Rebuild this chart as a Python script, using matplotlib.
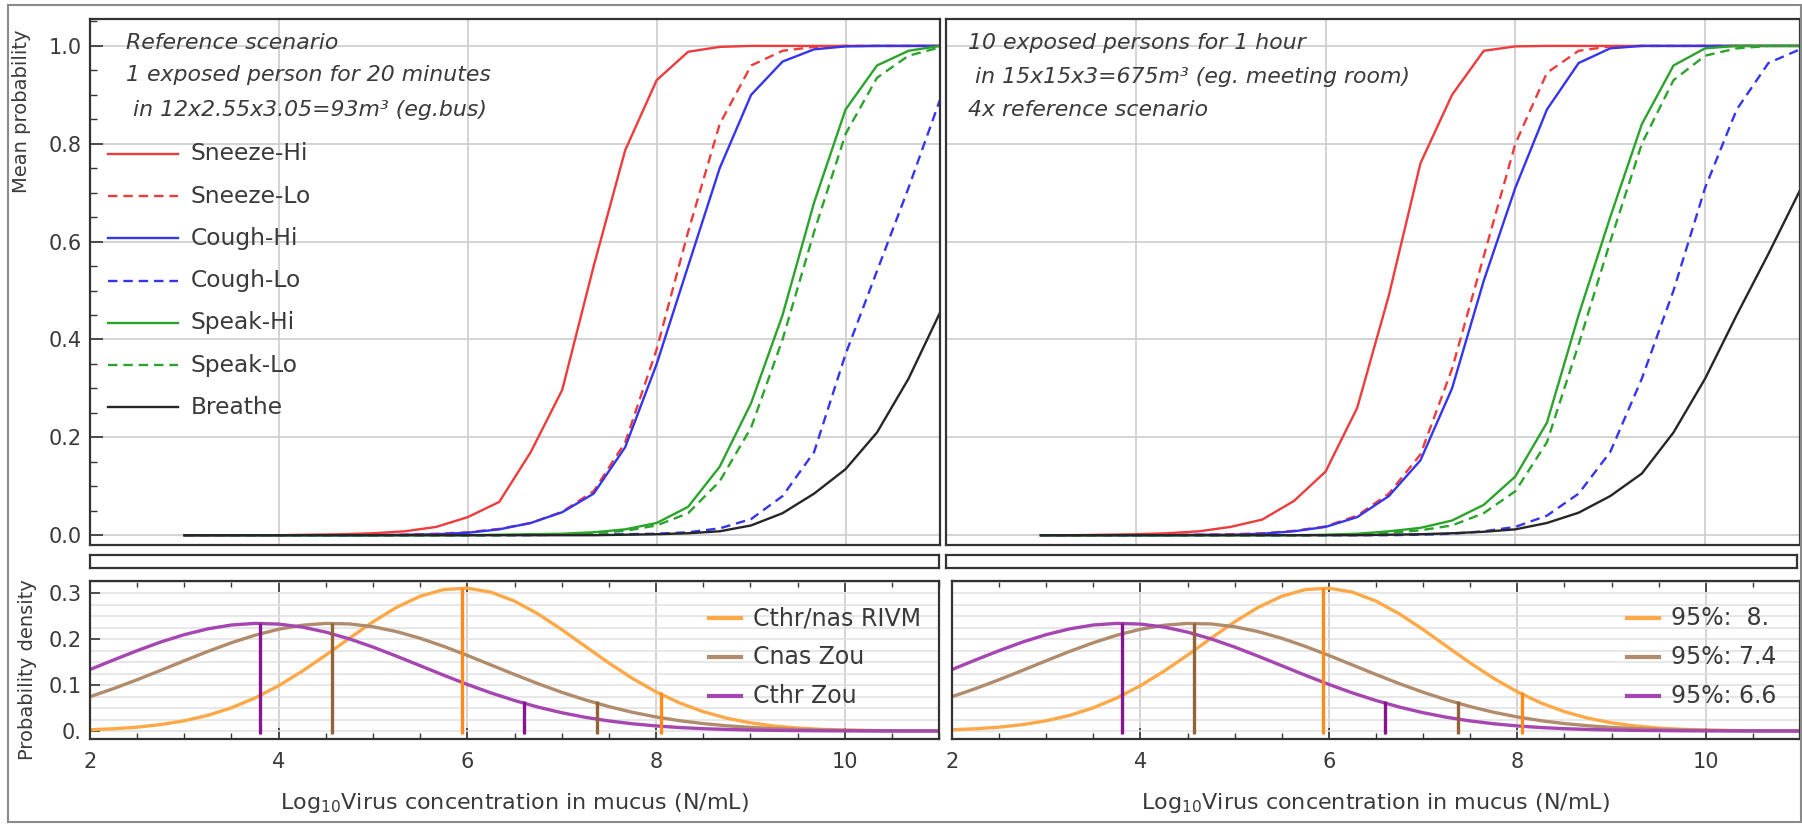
import matplotlib
matplotlib.use("Agg")
import matplotlib.pyplot as plt
from matplotlib.lines import Line2D
from matplotlib.patches import Rectangle
from matplotlib.ticker import MultipleLocator, FixedLocator

# ---------------- data ----------------
log_conc = [3.0, 3.333, 3.667, 4.0, 4.333, 4.667, 5.0, 5.333, 5.667, 6.0, 6.333, 6.667,
            7.0, 7.333, 7.667, 8.0, 8.333, 8.667, 9.0, 9.333, 9.667, 10.0, 10.333, 10.667, 11.0]

series_names = ["Sneeze-Hi", "Sneeze-Lo", "Cough-Hi", "Cough-Lo", "Speak-Hi", "Speak-Lo", "Breathe"]

# left panel: reference scenario (bus)
bus_sneeze_hi = [0, 0, 0, 0, 0.001, 0.002, 0.004, 0.008, 0.017, 0.037, 0.068, 0.17,
                 0.297, 0.55, 0.787, 0.93, 0.988, 0.998, 1.0, 1.0, 1.0, 1.0, 1.0, 1.0, 1.0]
bus_sneeze_lo = [0, 0, 0, 0, 0, 0, 0, 0.001, 0.003, 0.006, 0.013, 0.025,
                 0.048, 0.09, 0.19, 0.38, 0.62, 0.84, 0.96, 0.99, 0.998, 1.0, 1.0, 1.0, 1.0]
bus_cough_hi = [0, 0, 0, 0, 0, 0, 0, 0.001, 0.002, 0.005, 0.012, 0.025,
                0.047, 0.085, 0.18, 0.35, 0.55, 0.75, 0.9, 0.968, 0.993, 0.999, 1.0, 1.0, 1.0]
bus_cough_lo = [0, 0, 0, 0, 0, 0, 0, 0, 0, 0, 0, 0,
                0.001, 0.001, 0.002, 0.003, 0.006, 0.014, 0.033, 0.08, 0.17, 0.37, 0.54, 0.71, 0.89]
bus_speak_hi = [0, 0, 0, 0, 0, 0, 0, 0, 0, 0, 0.001, 0.002,
                0.003, 0.006, 0.012, 0.025, 0.058, 0.14, 0.27, 0.45, 0.68, 0.87, 0.96, 0.99, 1.0]
bus_speak_lo = [0, 0, 0, 0, 0, 0, 0, 0, 0, 0, 0, 0.001,
                0.002, 0.004, 0.009, 0.02, 0.045, 0.11, 0.22, 0.40, 0.62, 0.82, 0.935, 0.98, 0.997]
bus_breathe = [0, 0, 0, 0, 0, 0, 0, 0, 0, 0, 0, 0,
               0, 0, 0.001, 0.002, 0.004, 0.008, 0.02, 0.045, 0.085, 0.135, 0.21, 0.32, 0.455]

# right panel: meeting room
room_sneeze_hi = [0, 0, 0.001, 0.002, 0.004, 0.008, 0.017, 0.032, 0.07, 0.13, 0.26, 0.49,
                  0.76, 0.9, 0.99, 0.999, 1.0, 1.0, 1.0, 1.0, 1.0, 1.0, 1.0, 1.0, 1.0]
room_sneeze_lo = [0, 0, 0, 0, 0.001, 0.001, 0.002, 0.004, 0.009, 0.018, 0.04, 0.085,
                  0.165, 0.34, 0.57, 0.8, 0.945, 0.99, 0.999, 1.0, 1.0, 1.0, 1.0, 1.0, 1.0]
room_cough_hi = [0, 0, 0, 0, 0, 0.001, 0.001, 0.003, 0.008, 0.017, 0.037, 0.08,
                 0.153, 0.30, 0.52, 0.71, 0.87, 0.965, 0.995, 1.0, 1.0, 1.0, 1.0, 1.0, 1.0]
room_cough_lo = [0, 0, 0, 0, 0, 0, 0, 0, 0, 0, 0, 0,
                 0.001, 0.003, 0.008, 0.017, 0.04, 0.085, 0.17, 0.32, 0.5, 0.71, 0.87, 0.965, 0.993]
room_speak_hi = [0, 0, 0, 0, 0, 0, 0, 0, 0, 0.001, 0.003, 0.008,
                 0.015, 0.03, 0.062, 0.12, 0.23, 0.45, 0.65, 0.84, 0.96, 0.995, 1.0, 1.0, 1.0]
room_speak_lo = [0, 0, 0, 0, 0, 0, 0, 0, 0, 0, 0.002, 0.005,
                 0.01, 0.02, 0.045, 0.09, 0.19, 0.39, 0.6, 0.8, 0.93, 0.98, 0.995, 1.0, 1.0]
room_breathe = [0, 0, 0, 0, 0, 0, 0, 0, 0, 0, 0, 0.001,
                0.002, 0.004, 0.007, 0.012, 0.025, 0.046, 0.08, 0.126, 0.21, 0.32, 0.45, 0.575, 0.705]

# bottom panels: probability densities of log10 virus concentration
dens_x = [2.0, 2.25, 2.5, 2.75, 3.0, 3.25, 3.5, 3.75, 4.0, 4.25, 4.5, 4.75, 5.0, 5.25, 5.5,
          5.75, 6.0, 6.25, 6.5, 6.75, 7.0, 7.25, 7.5, 7.75, 8.0, 8.25, 8.5, 8.75, 9.0, 9.25,
          9.5, 9.75, 10.0, 10.25, 10.5, 10.75, 11.0]
dens_rivm = [0.0027, 0.0049, 0.0084, 0.0140, 0.0223, 0.0342, 0.0506, 0.0721, 0.0988, 0.1304,
             0.1655, 0.2023, 0.2380, 0.2696, 0.2938, 0.3083, 0.3114, 0.3027, 0.2832, 0.2552,
             0.2212, 0.1846, 0.1483, 0.1147, 0.0854, 0.0612, 0.0422, 0.0280, 0.0179, 0.0110,
             0.0065, 0.0037, 0.0020, 0.0011, 0.0006, 0.0003, 0.0001]
dens_cnas = [0.0748, 0.0925, 0.1118, 0.1323, 0.1532, 0.1736, 0.1925, 0.2089, 0.2219, 0.2306,
             0.2345, 0.2334, 0.2273, 0.2167, 0.2021, 0.1845, 0.1648, 0.1440, 0.1232, 0.1031,
             0.0845, 0.0678, 0.0532, 0.0408, 0.0307, 0.0225, 0.0162, 0.0114, 0.0079, 0.0053,
             0.0035, 0.0023, 0.0014, 0.0009, 0.0006, 0.0003, 0.0002]
dens_cthr = [0.1340, 0.1549, 0.1752, 0.1940, 0.2101, 0.2227, 0.2311, 0.2346, 0.2331, 0.2266,
             0.2156, 0.2008, 0.1830, 0.1631, 0.1424, 0.1216, 0.1016, 0.0831, 0.0665, 0.0521,
             0.0399, 0.0299, 0.0220, 0.0158, 0.0111, 0.0076, 0.0051, 0.0034, 0.0022, 0.0014,
             0.0009, 0.0005, 0.0003, 0.0002, 0.0001, 0.0001, 0.0]
dens_names = ["Cthr/nas RIVM", "Cnas Zou", "Cthr Zou"]
dens_q95_labels = ["95%:  8.", "95%: 7.4", "95%: 6.6"]
# median and 95% markers (position, height)
mark_rivm_x = [5.94, 8.05]
mark_rivm_h = [0.311, 0.085]
mark_cnas_x = [4.57, 7.37]
mark_cnas_h = [0.2345, 0.066]
mark_cthr_x = [3.80, 6.60]
mark_cthr_h = [0.2346, 0.066]

annot_left = ["Reference scenario", "1 exposed person for 20 minutes",
              " in 12x2.55x3.05=93m³ (eg.bus)"]
annot_right = ["10 exposed persons for 1 hour", " in 15x15x3=675m³ (eg. meeting room)",
               "4x reference scenario"]

# ---------------- styling ----------------
W, H = 1802, 826
fig = plt.figure(figsize=(W / 100, H / 100), dpi=100)
plt.rcParams['font.family'] = ['DejaVu Sans']
TXT = '#3a3a3a'
FRAME = '#333333'
GRID = '#d0d0d0'

c_red, c_blue, c_green, c_black = '#ee3b3b', '#3535ee', '#2aa42a', '#262626'
styles = [(c_red, '-'), (c_red, '--'), (c_blue, '-'), (c_blue, '--'),
          (c_green, '-'), (c_green, '--'), (c_black, '-')]
dens_curve_cols = ['#ffa848', '#b08c6c', '#a646b0']
dens_mark_cols = ['#ff8c1a', '#93643a', '#86168e']


def fx(px):
    return px / W


def fy(py):
    return 1 - py / H


def add_ax(x0, y0, x1, y1):
    a = fig.add_axes([x0 / W, 1 - y1 / H, (x1 - x0) / W, (y1 - y0) / H])
    for s in a.spines.values():
        s.set_color(FRAME)
        s.set_linewidth(1.6)
    a.tick_params(which='both', direction='in', colors=FRAME, labelcolor=TXT,
                  labelsize=15, top=False, right=False)
    return a


# outer frame
fig.add_artist(Rectangle((fx(8), fy(822)), fx(1801) - fx(8), fy(5) - fy(822),
                         transform=fig.transFigure, fill=False, edgecolor='#8a8a8a', lw=1.5))

bus = [bus_sneeze_hi, bus_sneeze_lo, bus_cough_hi, bus_cough_lo, bus_speak_hi, bus_speak_lo, bus_breathe]
room = [room_sneeze_hi, room_sneeze_lo, room_cough_hi, room_cough_lo, room_speak_hi, room_speak_lo, room_breathe]

top_axes = []
for (x0, x1), data in [((90, 940), bus), ((946, 1800), room)]:
    ax = add_ax(x0, 19, x1, 545)
    ax.set_xlim(2, 11)
    ax.set_ylim(-0.02, 1.055)
    ax.xaxis.set_major_locator(FixedLocator([4, 6, 8, 10]))
    ax.yaxis.set_major_locator(FixedLocator([0, 0.2, 0.4, 0.6, 0.8, 1.0]))
    ax.grid(True, which='major', color=GRID, lw=1.3)
    ax.set_axisbelow(True)
    ax.tick_params(axis='x', length=0, labelbottom=False)
    for vals, (col, ls), name in zip(data, styles, series_names):
        line, = ax.plot(log_conc, vals, color=col, lw=1.7, ls=ls, label=name)
        if ls == '--':
            line.set_dashes((4, 2.5))
    top_axes.append(ax)

axL, axR = top_axes
axL.yaxis.set_minor_locator(MultipleLocator(0.05))
axL.tick_params(axis='y', which='major', length=9, width=1.2, pad=6)
axL.tick_params(axis='y', which='minor', length=5, width=1.0)
axL.set_yticklabels(['0.0', '0.2', '0.4', '0.6', '0.8', '1.0'])
axR.tick_params(axis='y', length=0, labelleft=False)

fig.text(fx(22), fy(111), "Mean probability", rotation=90, ha='center', va='center',
         fontsize=14, color=TXT)

# annotations
for t, x, y in zip(annot_left, [126, 126, 126], [43, 75, 110]):
    fig.text(fx(x), fy(y), t, style='italic', fontsize=15.8, color=TXT, va='center', ha='left')
for t, x, y in zip(annot_right, [968, 968, 968], [43, 77, 110]):
    fig.text(fx(x), fy(y), t, style='italic', fontsize=15.8, color=TXT, va='center', ha='left')

# legend (top-left)
for i, ((col, ls), name) in enumerate(zip(styles, series_names)):
    yy = 154 + 42.2 * i
    ln = Line2D([fx(108), fx(178)], [fy(yy), fy(yy)], transform=fig.transFigure,
                color=col, lw=1.7, ls=ls)
    if ls == '--':
        ln.set_dashes((4, 2.5))
    fig.add_artist(ln)
    fig.text(fx(191), fy(yy), name, fontsize=16.8, color=TXT, va='center', ha='left')

# thin strips between panels
for x0, x1 in [(90, 939), (946, 1797)]:
    s = add_ax(x0, 555, x1, 568)
    s.set_xticks([])
    s.set_yticks([])

# bottom density panels
for (x0, x1), leg_x, labels in [((90, 939), 709, dens_names), ((952, 1800), 1627, dens_q95_labels)]:
    ax = add_ax(x0, 581, x1, 739)
    ax.set_xlim(2, 11)
    ax.set_ylim(-0.0174, 0.327)
    ax.xaxis.set_major_locator(FixedLocator([2, 4, 6, 8, 10]))
    ax.xaxis.set_minor_locator(MultipleLocator(0.5))
    ax.yaxis.set_major_locator(FixedLocator([0, 0.1, 0.2, 0.3]))
    ax.yaxis.set_minor_locator(MultipleLocator(0.025))
    ax.grid(True, axis='x', which='major', color=GRID, lw=1.3)
    ax.grid(True, axis='y', which='both', color='#e0e0e0', lw=1.1)
    ax.set_axisbelow(True)
    ax.tick_params(axis='x', which='both', top=True, bottom=True)
    ax.tick_params(axis='x', which='major', length=8, width=1.2, pad=9)
    ax.tick_params(axis='x', which='minor', length=4, width=1.0)
    for dens, col in zip([dens_rivm, dens_cnas, dens_cthr], dens_curve_cols):
        ax.plot(dens_x, dens, color=col, lw=2.4)
    for mx, mh, col in zip([mark_rivm_x, mark_cnas_x, mark_cthr_x],
                           [mark_rivm_h, mark_cnas_h, mark_cthr_h], dens_mark_cols):
        ax.vlines(mx, -0.006, mh, color=col, lw=2.4)
    ax.set_xlabel("Log$_{10}$Virus concentration in mucus (N/mL)", fontsize=16, color=TXT)
    ax.xaxis.set_label_coords(0.5, (739 - 803) / 158)
    ax.xaxis.label.set_va('center')
    if x0 < 500:
        ax.set_yticklabels(['0.', '0.1', '0.2', '0.3'])
        ax.tick_params(axis='y', which='major', length=7, width=1.2, pad=6)
        ax.tick_params(axis='y', which='minor', length=0)
    else:
        ax.tick_params(axis='y', which='both', length=0, labelleft=False)
    # legend
    for i, (lab, col) in enumerate(zip(labels, dens_curve_cols)):
        yy = 618 + 39 * i
        fig.add_artist(Line2D([fx(leg_x), fx(leg_x + 32)], [fy(yy), fy(yy)],
                              transform=fig.transFigure, color=col, lw=3))
        fig.text(fx(leg_x + 44), fy(yy), lab, fontsize=17, color=TXT, va='center', ha='left')

fig.text(fx(28), fy(670), "Probability density", rotation=90, ha='center', va='center',
         fontsize=14, color=TXT)

fig.savefig("out.png", dpi=100)
